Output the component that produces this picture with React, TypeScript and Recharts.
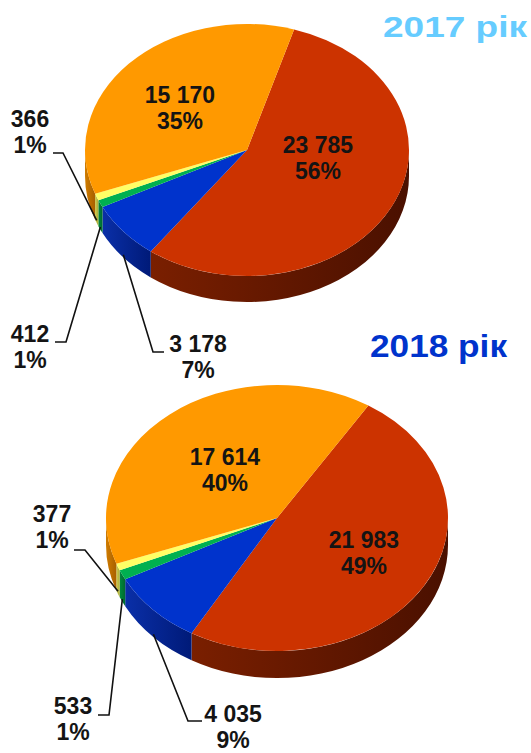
import React from 'react';
import { PieChart, Pie, Cell, Customized } from 'recharts';

// ---- data ----
const categories = ['Сегмент 1', 'Сегмент 2', 'Сегмент 3', 'Сегмент 4', 'Сегмент 5'];
const values2017 = [23785, 3178, 412, 366, 15170];
const pct2017 = [56, 7, 1, 1, 35];
const values2018 = [21983, 4035, 533, 377, 17614];
const pct2018 = [49, 9, 1, 1, 40];
const titles = ['2017 рік', '2018 рік'];

// ---- styles ----
const colors = ['#CC3300', '#0033CC', '#00B050', '#FFFF66', '#FF9900'];
const sideLight = ['#7a1f00', '#0a2fa8', '#008a3e', '#d0d050', '#d07c00'];
const sideDark = ['#4a1000', '#001a78', '#006a2e', '#a8a838', '#a86000'];
const TEXT = '#141414';
const FONT = '"Liberation Sans", Arial, sans-serif';

const RAD = Math.PI / 180;

type LabelLayout = {
  dx: number; // text centre relative to pie centre
  dy: number; // first baseline relative to pie centre
  elbow?: [number, number];
  end?: [number, number];
};

// label layout (relative to pie centre)
const layout2017: LabelLayout[] = [
  { dx: 71, dy: 3 },
  { dx: -49, dy: 202, elbow: [-94, 202], end: [-83, 202] },
  { dx: -217, dy: 192, elbow: [-181, 192], end: [-192, 192] },
  { dx: -217, dy: -23, elbow: [-184, 3], end: [-194, 3] },
  { dx: -67, dy: -47 },
];
const layout2018: LabelLayout[] = [
  { dx: 87, dy: 30 },
  { dx: -44, dy: 204, elbow: [-89, 203], end: [-75, 203] },
  { dx: -204, dy: 196, elbow: [-168, 197], end: [-179, 197] },
  { dx: -225, dy: 4, elbow: [-192, 32], end: [-203, 32] },
  { dx: -52, dy: -53 },
];

const TILT = 0.778;

const makeShape = (depth: number) => (props: any) => {
  const { cx, cy, outerRadius, startAngle, endAngle, fill, index } = props;
  const rx = outerRadius;
  const ry = outerRadius * TILT;
  const pt = (a: number, d = 0) => [cx + rx * Math.cos(a * RAD), cy - ry * Math.sin(a * RAD) + d];
  const hi = Math.max(startAngle, endAngle);
  const lo = Math.min(startAngle, endAngle);
  const large = hi - lo > 180 ? 1 : 0;
  const p1 = pt(hi);
  const p0 = pt(lo);
  const top = `M${cx},${cy} L${p1[0]},${p1[1]} A${rx},${ry} 0 ${large} 1 ${p0[0]},${p0[1]} Z`;
  const sides: string[] = [];
  for (let k = -2; k <= 2; k++) {
    const s = Math.max(lo, -180 + 360 * k);
    const e = Math.min(hi, 360 * k);
    if (e > s + 0.01) {
      const a = pt(e);
      const b = pt(s);
      const bd = pt(s, depth);
      const ad = pt(e, depth);
      sides.push(
        `M${a[0]},${a[1]} A${rx},${ry} 0 0 1 ${b[0]},${b[1]} L${bd[0]},${bd[1]} A${rx},${ry} 0 0 0 ${ad[0]},${ad[1]} Z`
      );
    }
  }
  const ci = index % colors.length;
  return (
    <g>
      {sides.map((d, i) => (
        <path key={i} d={d} fill={`url(#side-${ci})`} stroke="none" />
      ))}
      <path d={top} fill={fill} stroke="none" />
    </g>
  );
};

const fmt = (v: number) => String(v).replace(/\B(?=(\d{3})+(?!\d))/g, ' ');

const makeLabel = (lay: LabelLayout[], pcts: number[], depth: number) => (props: any) => {
  const { cx, cy, midAngle, outerRadius, index, value } = props;
  const L = lay[index];
  const tx = cx + L.dx;
  const ty = cy + L.dy;
  let line = null;
  if (L.elbow && L.end) {
    const rx = outerRadius;
    const ry = outerRadius * TILT;
    const ax = cx + rx * Math.cos(midAngle * RAD);
    const ay = cy - ry * Math.sin(midAngle * RAD) + depth * 0.9;
    const pts = `${ax},${ay} ${cx + L.elbow[0]},${cy + L.elbow[1]} ${cx + L.end[0]},${cy + L.end[1]}`;
    line = <polyline points={pts} fill="none" stroke="#111" strokeWidth={1.6} />;
  }
  return (
    <g key={`lbl-${index}`}>
      {line}
      <text
        x={tx}
        y={ty}
        textAnchor="middle"
        fontFamily={FONT}
        fontWeight="bold"
        fontSize={23}
        fill={TEXT}
      >
        <tspan x={tx} dy={0}>{fmt(value)}</tspan>
        <tspan x={tx} dy={26}>{`${pcts[index]}%`}</tspan>
      </text>
    </g>
  );
};

const data2017 = categories.map((name, i) => ({ name, value: values2017[i] }));
const data2018 = categories.map((name, i) => ({ name, value: values2018[i] }));

const shape1 = makeShape(26);
const shape2 = makeShape(27);

const Titles = () => (
  <g>
    <text
      x={383}
      y={37}
      fontFamily={FONT}
      fontWeight="bold"
      fontSize={30}
      fill="#66CCFF"
      textLength={144}
      lengthAdjust="spacingAndGlyphs"
    >
      {titles[0]}
    </text>
    <text
      x={370}
      y={357}
      fontFamily={FONT}
      fontWeight="bold"
      fontSize={32}
      fill="#0033CC"
      textLength={137}
      lengthAdjust="spacingAndGlyphs"
    >
      {titles[1]}
    </text>
  </g>
);

export default function App() {
  return (
    <div style={{ position: 'absolute', left: 0, top: 0, width: 531, height: 753, background: '#fff' }}>
      <PieChart width={531} height={753} margin={{ top: 0, right: 0, bottom: 0, left: 0 }}>
        <defs>
          {colors.map((c, i) => (
            <linearGradient key={i} id={`side-${i}`} x1="0" y1="0" x2="1" y2="0">
              <stop offset="0%" stopColor={sideLight[i]} />
              <stop offset="100%" stopColor={sideDark[i]} />
            </linearGradient>
          ))}
        </defs>
        <Pie
          data={data2017}
          dataKey="value"
          nameKey="name"
          cx={247}
          cy={150}
          outerRadius={162}
          startAngle={73.1}
          endAngle={73.1 - 360}
          stroke="none"
          isAnimationActive={false}
          shape={shape1}
          activeShape={shape1}
          inactiveShape={shape1}
          label={makeLabel(layout2017, pct2017, 26)}
          labelLine={false}
        >
          {data2017.map((_, i) => (
            <Cell key={i} fill={colors[i]} />
          ))}
        </Pie>
        <Pie
          data={data2018}
          dataKey="value"
          nameKey="name"
          cx={277}
          cy={518}
          outerRadius={171}
          startAngle={57.7}
          endAngle={57.7 - 360}
          stroke="none"
          isAnimationActive={false}
          shape={shape2}
          activeShape={shape2}
          inactiveShape={shape2}
          label={makeLabel(layout2018, pct2018, 27)}
          labelLine={false}
        >
          {data2018.map((_, i) => (
            <Cell key={i} fill={colors[i]} />
          ))}
        </Pie>
        <Customized component={Titles} />
      </PieChart>
    </div>
  );
}
